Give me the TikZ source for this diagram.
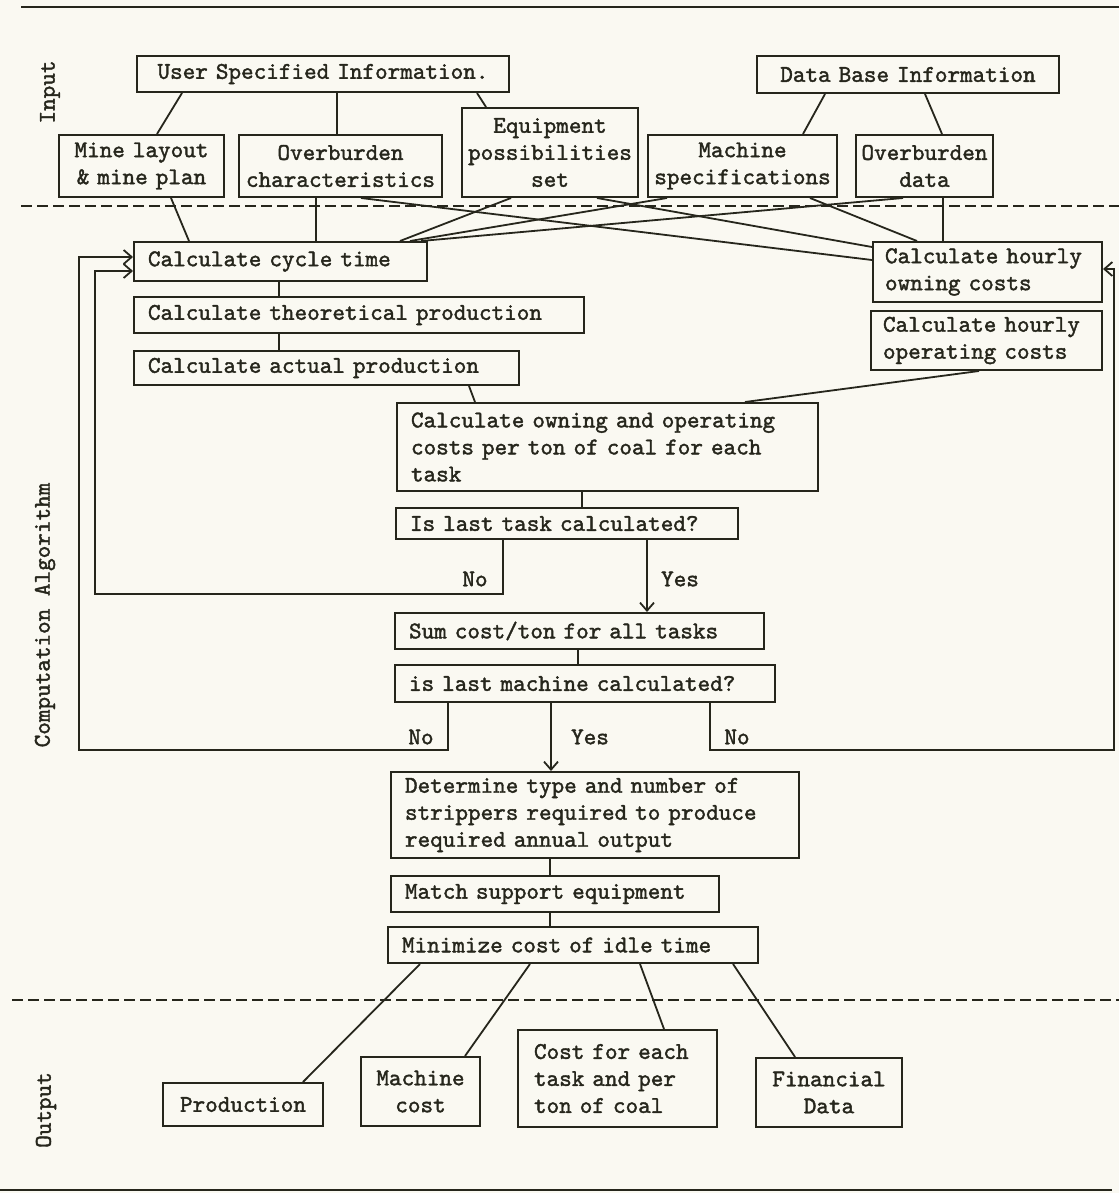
\documentclass[tikz,border=0pt]{standalone}
\usepackage{fontspec}
\setmonofont{lmmono10-regular.otf}[FakeBold=1.6]
\usetikzlibrary{arrows.meta}
\definecolor{ink}{RGB}{38,38,28}
\definecolor{paper}{RGB}{250,249,242}
\begin{document}
\begin{tikzpicture}[x=1pt,y=-1pt,
  font=\fontsize{24}{27}\selectfont\ttfamily,
  every node/.style={text=ink},
  cb/.style={draw=ink, line width=2pt, inner xsep=4pt, inner ysep=0pt, align=center},
  lb/.style={draw=ink, line width=2pt, inner xsep=#1, inner ysep=0pt, align=left},
  lb/.default=14pt,
  con/.style={draw=ink, line width=1.8pt},
  arr/.style={draw=ink, line width=1.8pt, -{Straight Barb[length=8pt,width=14pt,line width=1.8pt]}},
  sep/.style={draw=ink, line width=2pt, dash pattern=on 11pt off 5pt},
  rule/.style={draw=ink, line width=2.2pt},
  lbl/.style={inner sep=1pt}]
\useasboundingbox[fill=paper] (0,0) rectangle (1119,1193);

% section rules
\draw[rule] (21,7) -- (1119,7);
\draw[sep] (21,206) -- (1119,206);
\draw[sep] (12,1000) -- (1119,1000);
\draw[rule] (0,1190) -- (1112,1190);

% section labels
\node[rotate=90] (secin) at (50,92) {Input};
\node[rotate=90] (secalg) at (45,615) {Computation Algorithm};
\node[rotate=90] (secout) at (46,1110) {Output};

% input boxes
\node[cb, text width=364pt, minimum height=36pt] (usi) at (323,74) {User Specified Information.};
\node[cb, text width=294pt, minimum height=37pt] (dbi) at (908,74.5) {Data Base Information};
\node[cb, text width=157pt, minimum height=62pt] (mine) at (141.5,166) {Mine layout\\\& mine plan};
\node[cb, text width=195pt, minimum height=62pt] (obc) at (340.5,166) {Overburden\\characteristics};
\node[cb, text width=168pt, minimum height=89pt] (equip) at (550,152.5) {Equipment\\possibilities\\set};
\node[cb, text width=181pt, minimum height=62pt] (mach) at (742.5,166) {Machine\\specifications};
\node[cb, text width=129pt, minimum height=62pt] (obd) at (924.5,166) {Overburden\\data};

% computation boxes
\node[lb, text width=265pt, minimum height=39pt] (cyc) at (280.5,261.5) {Calculate cycle time};
\node[lb, text width=422pt, minimum height=36pt] (theo) at (359,315) {Calculate theoretical production};
\node[lb, text width=357pt, minimum height=34pt] (act) at (326.5,368) {Calculate actual production};
\node[lb=12pt, text width=205pt, minimum height=60pt] (own) at (987.5,272) {Calculate hourly\\owning costs};
\node[lb=12pt, text width=207pt, minimum height=59pt] (opr) at (986.5,340.5) {Calculate hourly\\operating costs};
\node[lb, text width=393pt, minimum height=88pt] (pton) at (607.5,447) {Calculate owning and operating\\costs per ton of coal for each\\task};
\node[lb, text width=314pt, minimum height=31pt] (last) at (567,523.5) {Is last task calculated?};
\node[lb, text width=341pt, minimum height=36pt] (sum) at (579.5,631) {Sum cost/ton for all tasks};
\node[lb, text width=352pt, minimum height=37pt] (lastm) at (585,683.5) {is last machine calculated?};
\node[lb, text width=380pt, minimum height=86pt] (det) at (595,815) {Determine type and number of\\strippers required to produce\\required annual output};
\node[lb, text width=300pt, minimum height=36pt] (match) at (555,894) {Match support equipment};
\node[lb, text width=342pt, minimum height=36pt] (mini) at (573,945) {Minimize cost of idle time};

% output boxes
\node[cb, text width=152pt, minimum height=43pt] (prod) at (243,1104.5) {Production};
\node[cb, text width=111pt, minimum height=69pt] (mcost) at (420.5,1091.5) {Machine\\cost};
\node[lb=16pt, text width=167pt, minimum height=97pt] (ceach) at (617.5,1078.5) {Cost for each\\task and per\\ton of coal};
\node[cb, text width=138pt, minimum height=69pt] (fin) at (829,1092.5) {Financial\\Data};

% input tree
\draw[con] (usi.south -| 182,0) -- (mine.north -| 157,0);
\draw[con] (usi.south -| 337,0) -- (obc.north -| 337,0);
\draw[con] (usi.south -| 477,0) -- (equip.north -| 486,0);
\draw[con] (dbi.south -| 825,0) -- (mach.north -| 803,0);
\draw[con] (dbi.south -| 925,0) -- (obd.north -| 942,0);

% inputs to computation
\draw[con] (mine.south -| 171,0) -- (cyc.north -| 189,0);
\draw[con] (obc.south -| 316,0) -- (cyc.north -| 316,0);
\draw[con] (obc.south -| 361,0) -- (own.west |- 0,260);
\draw[con] (equip.south -| 511,0) -- (cyc.north -| 400,0);
\draw[con] (equip.south -| 597,0) -- (own.west |- 0,247);
\draw[con] (mach.south -| 667,0) -- (cyc.north -| 410,0);
\draw[con] (mach.south -| 810,0) -- (own.north -| 917,0);
\draw[con] (obd.south -| 903,0) -- (cyc.north -| 421,0);
\draw[con] (obd.south -| 943,0) -- (own.north -| 943,0);

% computation chain
\draw[con] (cyc.south -| 279,0) -- (theo.north -| 279,0);
\draw[con] (theo.south -| 279,0) -- (act.north -| 279,0);
\draw[con] (act.south -| 469,0) -- (pton.north -| 475,0);
\draw[con] (opr.south -| 979,0) -- (pton.north -| 745,0);
\draw[con] (pton.south -| 582,0) -- (last.north -| 582,0);

% task loop
\draw[arr] (last.south -| 503,0) |- (95,594) |- (cyc.west |- 0,271);
\node[lbl] (no1) at (475,579) {No};
\draw[arr] (last.south -| 647,0) -- (sum.north -| 647,0);
\node[lbl] (yes1) at (680,579) {Yes};
\draw[con] (sum.south -| 578,0) -- (lastm.north -| 578,0);

% machine loop
\draw[arr] (lastm.south -| 448,0) |- (79,750) |- (cyc.west |- 0,257);
\node[lbl] (no2) at (421,737) {No};
\draw[arr] (lastm.south -| 551,0) -- (det.north -| 551,0);
\node[lbl] (yes2) at (590,737) {Yes};
\draw[arr] (lastm.south -| 710,0) |- (1114,750) |- (own.east |- 0,269);
\node[lbl] (no3) at (737,737) {No};

% final chain
\draw[con] (det.south -| 550,0) -- (match.north -| 550,0);
\draw[con] (match.south -| 550,0) -- (mini.north -| 550,0);

% outputs
\draw[con] (mini.south -| 420,0) -- (prod.north -| 303,0);
\draw[con] (mini.south -| 530,0) -- (mcost.north -| 465,0);
\draw[con] (mini.south -| 640,0) -- (ceach.north -| 664,0);
\draw[con] (mini.south -| 733,0) -- (fin.north -| 795,0);
\end{tikzpicture}
\end{document}
